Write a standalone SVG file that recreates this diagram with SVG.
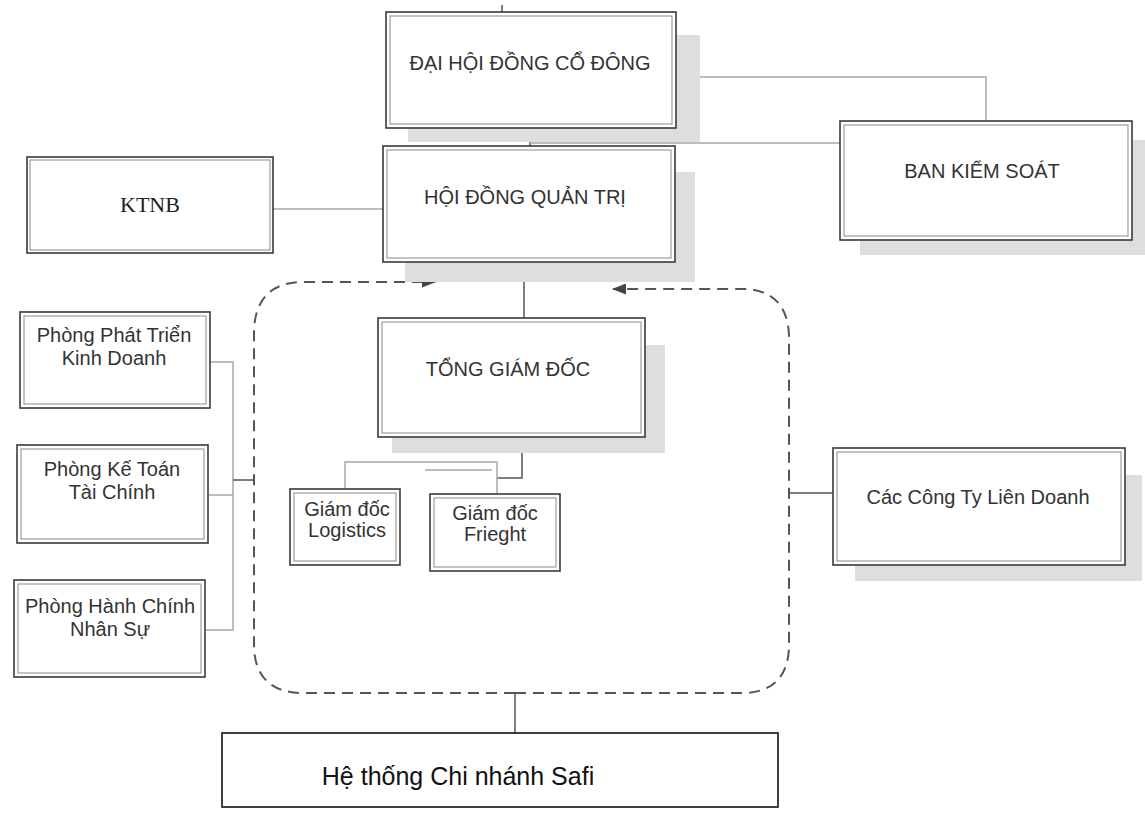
<svg xmlns="http://www.w3.org/2000/svg" width="1145" height="823" viewBox="0 0 1145 823">
<style>
.bg{fill:#fff}
.sh{fill:#dedede}
.bo{fill:#fff;stroke:#3a3a3a;stroke-width:1.6}
.bi{fill:none;stroke:#8a8a8a;stroke-width:1}
.t{font-family:"Liberation Sans",Arial,sans-serif;font-size:20px;fill:#333;text-anchor:middle}
.ts{font-family:"Liberation Serif","Times New Roman",serif;font-size:22px;fill:#222;text-anchor:middle}
.tc{font-family:"Liberation Sans",Arial,sans-serif;font-size:25px;fill:#111;text-anchor:middle}
.c{fill:none;stroke:#a8a8a8;stroke-width:1.5}
.cd{fill:none;stroke:#555;stroke-width:1.5}
.dash{fill:none;stroke:#555;stroke-width:2;stroke-dasharray:11 7}
</style>
<defs>
<marker id="ah" viewBox="0 0 14 11" refX="13" refY="5.5" markerWidth="14" markerHeight="11" markerUnits="userSpaceOnUse" orient="auto">
<path d="M0,0 L14,5.5 L0,11 z" fill="#444"/>
</marker>
</defs>
<rect class="bg" x="0" y="0" width="1145" height="823"/>

<g id="connectors">
<line class="cd" x1="502" y1="5" x2="502" y2="12"/>
<line class="cd" x1="530" y1="128" x2="530" y2="146"/>
<line class="c" x1="530" y1="143" x2="840" y2="143"/>
<path class="c" d="M676 77 H986 V121"/>
<line class="c" x1="273" y1="209" x2="383" y2="209"/>
<line class="cd" x1="524" y1="262" x2="524" y2="318"/>
<path class="cd" d="M522 437 V478 H497"/>
<path class="c" d="M345 489 V462 H497 V494"/>
<path class="c" d="M425 470 H492"/>
<path class="c" d="M210 362 H233 V630 H206"/>
<path class="c" d="M209 495 H233"/>
<path class="cd" d="M233 480 H254"/>
<path class="cd" d="M789 493 H833"/>
<line class="cd" x1="515" y1="693" x2="515" y2="733"/>
<path class="dash" d="M515 693 H300 Q256 691 254 648 V330 Q256 284 300 282 H435" marker-end="url(#ah)"/>
<path class="dash" d="M515 693 H745 Q787 691 789 648 V335 Q787 291 745 289 H613" marker-end="url(#ah)"/>
</g>

<g id="dai-hoi">
<rect class="sh" x="408" y="35" width="292" height="107"/>
<rect class="bo" x="386" y="12" width="290" height="116"/>
<rect class="bi" x="390" y="16" width="282" height="108"/>
<text class="t" x="530" y="70" font-size="21">ĐẠI HỘI ĐỒNG CỔ ĐÔNG</text>
</g>

<g id="hoi-dong">
<rect class="sh" x="405" y="172" width="290" height="110"/>
<rect class="bo" x="383" y="146" width="292" height="116"/>
<rect class="bi" x="387" y="150" width="284" height="108"/>
<text class="t" x="525" y="204">HỘI ĐỒNG QUẢN TRỊ</text>
</g>

<g id="ktnb">
<rect class="bo" x="27" y="157" width="246" height="96"/>
<rect class="bi" x="30" y="160" width="240" height="90"/>
<text class="ts" x="150" y="212">KTNB</text>
</g>

<g id="ban-kiem-soat">
<rect class="sh" x="860" y="140" width="285" height="115"/>
<rect class="bo" x="840" y="121" width="292" height="119"/>
<rect class="bi" x="844" y="125" width="284" height="111"/>
<text class="t" x="982" y="178">BAN KIỂM SOÁT</text>
</g>

<g id="tong-giam-doc">
<rect class="sh" x="392" y="345" width="273" height="108"/>
<rect class="bo" x="378" y="318" width="267" height="119"/>
<rect class="bi" x="382" y="322" width="259" height="111"/>
<text class="t" x="508" y="376">TỔNG GIÁM ĐỐC</text>
</g>

<g id="gd-logistics">
<rect class="bo" x="290" y="489" width="110" height="76"/>
<rect class="bi" x="294" y="493" width="102" height="68"/>
<text class="t" x="347" y="516" font-size="18">Giám đốc</text>
<text class="t" x="347" y="537" font-size="18">Logistics</text>
</g>

<g id="gd-frieght">
<rect class="bo" x="430" y="494" width="130" height="77"/>
<rect class="bi" x="434" y="498" width="122" height="69"/>
<text class="t" x="495" y="520" font-size="18">Giám đốc</text>
<text class="t" x="495" y="541" font-size="18">Frieght</text>
</g>

<g id="phong-ptkd">
<rect class="bo" x="20" y="312" width="190" height="96"/>
<rect class="bi" x="24" y="316" width="182" height="88"/>
<text class="t" x="114" y="342" font-size="19">Phòng Phát Triển</text>
<text class="t" x="114" y="365" font-size="19">Kinh Doanh</text>
</g>

<g id="phong-ktc">
<rect class="bo" x="17" y="445" width="191" height="98"/>
<rect class="bi" x="21" y="449" width="183" height="90"/>
<text class="t" x="112" y="476" font-size="19">Phòng Kế Toán</text>
<text class="t" x="112" y="499" font-size="19">Tài Chính</text>
</g>

<g id="phong-hcns">
<rect class="bo" x="14" y="580" width="191" height="97"/>
<rect class="bi" x="18" y="584" width="183" height="89"/>
<text class="t" x="110" y="613" font-size="19">Phòng Hành Chính</text>
<text class="t" x="110" y="636" font-size="19">Nhân Sự</text>
</g>

<g id="cong-ty-lien-doanh">
<rect class="sh" x="855" y="475" width="287" height="106"/>
<rect class="bo" x="833" y="448" width="292" height="117"/>
<rect class="bi" x="837" y="452" width="284" height="109"/>
<text class="t" x="978" y="504">Các Công Ty Liên Doanh</text>
</g>

<g id="chi-nhanh">
<rect x="222" y="733" width="556" height="74" fill="#fff" stroke="#111" stroke-width="1.6"/>
<text class="tc" x="458" y="785">Hệ thống Chi nhánh Safi</text>
</g>
</svg>
